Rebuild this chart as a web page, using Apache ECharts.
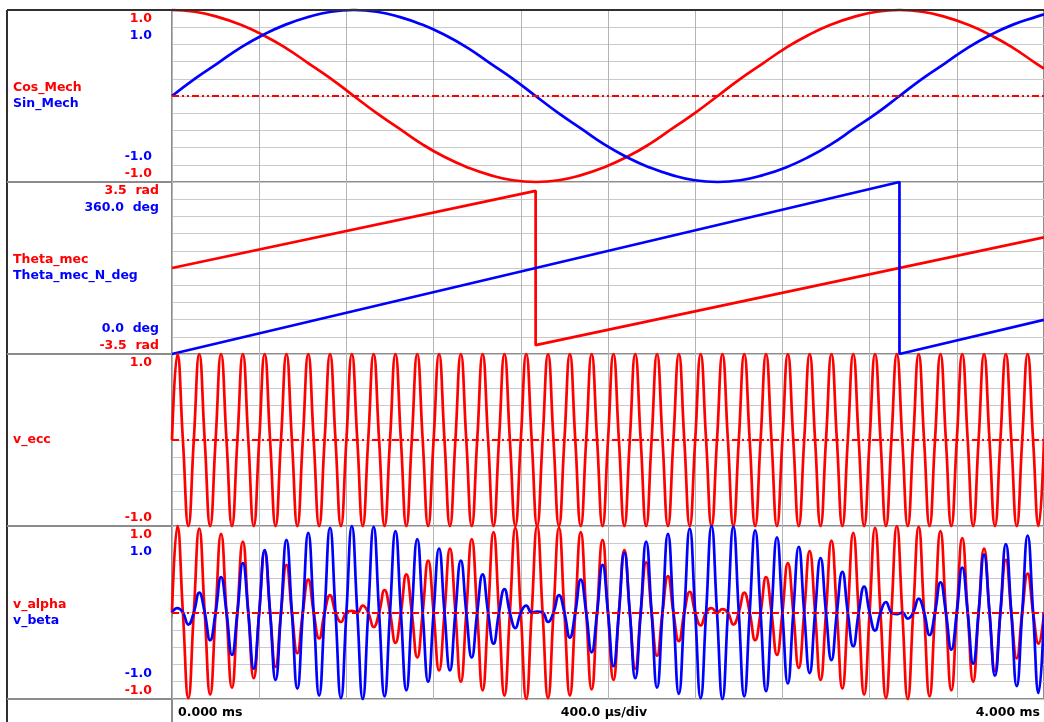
<!DOCTYPE html>
<html>
<head>
<meta charset="utf-8">
<script src="https://cdn.jsdelivr.net/npm/echarts@6/dist/echarts.min.js"></script>
<style>
html,body{margin:0;padding:0;background:#fff;}
#chart{width:1044px;height:722px;}
</style>
</head>
<body>
<div id="chart"></div>
<script>
// ---------------- DATA ----------------
// Panel 1: mechanical cos / sin (period ~3.337 ms), read at 1/32-period steps
const tSlow   = [0,0.104,0.209,0.313,0.417,0.521,0.626,0.730,0.834,0.939,
                 1.043,1.147,1.251,1.356,1.460,1.564,1.668,1.773,1.877,1.981,
                 2.086,2.190,2.294,2.398,2.503,2.607,2.711,2.816,2.920,3.024,
                 3.128,3.233,3.337,3.441,3.546,3.650,3.754,3.858,3.963,4.0];
const cosMech = [1.00,0.98,0.92,0.83,0.71,0.56,0.38,0.20,0.00,-0.20,
                 -0.38,-0.56,-0.71,-0.83,-0.92,-0.98,-1.00,-0.98,-0.92,-0.83,
                 -0.71,-0.56,-0.38,-0.20,0.00,0.20,0.38,0.56,0.71,0.83,
                 0.92,0.98,1.00,0.98,0.92,0.83,0.71,0.56,0.38,0.32];
const sinMech = [0.00,0.20,0.38,0.56,0.71,0.83,0.92,0.98,1.00,0.98,
                 0.92,0.83,0.71,0.56,0.38,0.20,0.00,-0.20,-0.38,-0.56,
                 -0.71,-0.83,-0.92,-0.98,-1.00,-0.98,-0.92,-0.83,-0.71,-0.56,
                 -0.38,-0.20,0.00,0.20,0.38,0.56,0.71,0.83,0.92,0.95];

// Panel 2: angle sawtooths (corner points)
const thetaRadTime = [0, 1.668, 1.668, 4.0];
const thetaRad     = [0, 3.14, -3.14, 1.25];
const thetaDegTime = [0, 3.337, 3.337, 4.0];
const thetaDeg     = [0, 360, 0, 71.5];

// Panels 3/4: carrier of 0.1 ms period; half-cycle peak values (zero crossings between them)
const carrierQuarterMs = 0.025;
const vEccPeaks = [1,-1,1,-1,1,-1,1,-1,1,-1,1,-1,1,-1,1,-1,1,-1,1,-1,
                   1,-1,1,-1,1,-1,1,-1,1,-1,1,-1,1,-1,1,-1,1,-1,1,-1,
                   1,-1,1,-1,1,-1,1,-1,1,-1,1,-1,1,-1,1,-1,1,-1,1,-1,
                   1,-1,1,-1,1,-1,1,-1,1,-1,1,-1,1,-1,1,-1,1,-1,1,-1];
const vAlphaPeaks = [1.00,-0.99,0.97,-0.95,0.91,-0.87,0.82,-0.76,0.70,-0.63,
                     0.55,-0.47,0.38,-0.30,0.20,-0.11,0.02,0.08,-0.17,0.26,
                     -0.35,0.44,-0.52,0.60,-0.67,0.74,-0.80,0.85,-0.90,0.93,
                     -0.96,0.98,-1.00,1.00,-0.99,0.98,-0.96,0.93,-0.89,0.84,
                     -0.78,0.72,-0.65,0.58,-0.50,0.42,-0.33,0.24,-0.15,0.05,
                     0.04,-0.14,0.23,-0.32,0.41,-0.49,0.57,-0.64,0.71,-0.78,
                     0.83,-0.88,0.92,-0.95,0.98,-0.99,1.00,-1.00,0.99,-0.97,
                     0.94,-0.90,0.86,-0.80,0.74,-0.68,0.61,-0.53,0.45,-0.36];
const vBetaPeaks = [0.05,-0.14,0.23,-0.32,0.41,-0.49,0.57,-0.65,0.72,-0.78,
                    0.84,-0.88,0.92,-0.96,0.98,-0.99,1.00,-1.00,0.99,-0.97,
                    0.94,-0.90,0.85,-0.80,0.74,-0.67,0.60,-0.52,0.44,-0.36,
                    0.27,-0.18,0.08,0.01,-0.11,0.20,-0.29,0.38,-0.46,0.55,
                    -0.62,0.69,-0.76,0.82,-0.87,0.91,-0.94,0.97,-0.99,1.00,
                    -1.00,0.99,-0.97,0.95,-0.91,0.87,-0.82,0.76,-0.70,0.63,
                    -0.55,0.47,-0.39,0.30,-0.21,0.12,-0.02,-0.07,0.16,-0.26,
                    0.35,-0.43,0.52,-0.59,0.67,-0.73,0.79,-0.85,0.89,-0.93];

// Text
const panelNames   = [['Cos_Mech','Sin_Mech'],['Theta_mec','Theta_mec_N_deg'],['v_ecc'],['v_alpha','v_beta']];
const topTicks     = [['1.0','1.0'],['3.5  rad','360.0  deg'],['1.0'],['1.0','1.0']];
const bottomTicks  = [['-1.0','-1.0'],['0.0  deg','-3.5  rad'],['-1.0'],['-1.0','-1.0']];
const timeLabels   = ['0.000 ms','400.0 µs/div','4.000 ms'];

// ---------------- BUILD ----------------
const RED = '#ff0000', BLUE = '#0000ff';
const FONT = 'bold 12.5px "DejaVu Sans", Verdana, sans-serif';
const L = 172, W = 876;
const tops = [10, 182, 354, 526];
const heights = [172, 172, 172, 173];
const LW = 2.7;

const zip = (xs, ys) => xs.map((x, i) => [x, ys[i]]);
function carrier(peaks) {
  const d = [[0, 0]];
  peaks.forEach((p, k) => {
    d.push([(2 * k + 1) * carrierQuarterMs, p]);
    d.push([(2 * k + 2) * carrierQuarterMs, 0]);
  });
  return d;
}

const zeroMark = {
  silent: true, symbol: ['none', 'none'], label: { show: false },
  lineStyle: { color: RED, width: 2, type: [7, 3, 2, 3, 2, 3] },
  data: [{ yAxis: 0 }]
};

const grids = tops.map((t, i) => ({
  left: L, width: W, top: t, height: heights[i],
  show: true, borderColor: '#8c8c8c', borderWidth: 2, backgroundColor: 'transparent'
}));

const xAxes = tops.map((t, i) => ({
  type: 'value', gridIndex: i, min: 0, max: 4, interval: 0.4,
  axisLabel: { show: false }, axisLine: { show: false },
  axisTick: { show: i === 3, length: 5, lineStyle: { color: '#8c8c8c', width: 1 } },
  splitLine: { show: true, lineStyle: { color: '#b4b4b4', width: 1 } }
}));

const hSplit = { show: true, lineStyle: { color: '#cacaca', width: 1 } };
const hiddenY = { axisLabel: { show: false }, axisLine: { show: false }, axisTick: { show: false } };
const yAxes = [
  Object.assign({ type: 'value', gridIndex: 0, min: -1, max: 1, interval: 0.2, splitLine: hSplit }, hiddenY),
  Object.assign({ type: 'value', gridIndex: 1, min: 0, max: 360, interval: 36, splitLine: hSplit }, hiddenY),
  Object.assign({ type: 'value', gridIndex: 1, min: -3.5, max: 3.5, splitLine: { show: false } }, hiddenY),
  Object.assign({ type: 'value', gridIndex: 2, min: -1, max: 1, interval: 0.2, splitLine: hSplit }, hiddenY),
  Object.assign({ type: 'value', gridIndex: 3, min: -1, max: 1, interval: 0.2, splitLine: hSplit }, hiddenY)
];

function line(name, data, xi, yi, color, smooth, mark) {
  const s = {
    type: 'line', name, data, xAxisIndex: xi, yAxisIndex: yi,
    symbol: 'none', showSymbol: false, smooth, clip: false,
    lineStyle: { color, width: LW }, itemStyle: { color }, silent: true
  };
  if (mark) s.markLine = zeroMark;
  return s;
}

const series = [
  line('Cos_Mech', zip(tSlow, cosMech), 0, 0, RED, 0.5, true),
  line('Sin_Mech', zip(tSlow, sinMech), 0, 0, BLUE, 0.5, false),
  line('Theta_mec', zip(thetaRadTime, thetaRad), 1, 2, RED, false, false),
  line('Theta_mec_N_deg', zip(thetaDegTime, thetaDeg), 1, 1, BLUE, false, false),
  line('v_ecc', carrier(vEccPeaks), 2, 3, RED, 0.5, true),
  line('v_alpha', carrier(vAlphaPeaks), 3, 4, RED, 0.5, true),
  line('v_beta', carrier(vBetaPeaks), 3, 4, BLUE, 0.5, false)
];

// Frame lines and texts
const graphic = [];
function gl(x1, y1, x2, y2, stroke, w) {
  graphic.push({ type: 'line', silent: true, z: 10, shape: { x1, y1, x2, y2 }, style: { stroke, lineWidth: w } });
}
function gt(text, x, y, fill, align) {
  graphic.push({ type: 'text', silent: true, z: 10, style: {
    text, x, y, fill, font: FONT, textAlign: align, align, textVerticalAlign: 'middle', verticalAlign: 'middle'
  }});
}
const bottomY = tops[3] + heights[3];
gl(7, 10, 1044, 10, '#303030', 2);
gl(7, 10, 7, 722, '#303030', 2);
tops.slice(1).forEach(t => gl(7, t, L, t, '#8c8c8c', 2));
gl(7, bottomY, L, bottomY, '#8c8c8c', 2);
gl(L, bottomY, L, 722, '#8c8c8c', 2);

tops.forEach((t, i) => {
  const h = heights[i];
  const names = panelNames[i];
  const two = names.length === 2;
  const rx = i === 1 ? 159 : 152;
  const mid = t + h / 2;
  if (two) {
    gt(names[0], 13, mid - 8, RED, 'left');
    gt(names[1], 13, mid + 8, BLUE, 'left');
    gt(topTicks[i][0], rx, t + 9, RED, 'right');
    gt(topTicks[i][1], rx, t + 25.5, BLUE, 'right');
    gt(bottomTicks[i][0], rx, t + h - 25, BLUE, 'right');
    gt(bottomTicks[i][1], rx, t + h - 8.5, RED, 'right');
  } else {
    gt(names[0], 13, mid, RED, 'left');
    gt(topTicks[i][0], rx, t + 9, RED, 'right');
    gt(bottomTicks[i][0], rx, t + h - 8.5, RED, 'right');
  }
});
gt(timeLabels[0], 178, 713, '#000000', 'left');
gt(timeLabels[1], 604, 713, '#000000', 'center');
gt(timeLabels[2], 1040, 713, '#000000', 'right');

const chart = echarts.init(document.getElementById('chart'), null, { renderer: 'canvas' });
chart.setOption({
  animation: false,
  backgroundColor: '#ffffff',
  grid: grids, xAxis: xAxes, yAxis: yAxes, series, graphic
});
</script>
</body>
</html>
